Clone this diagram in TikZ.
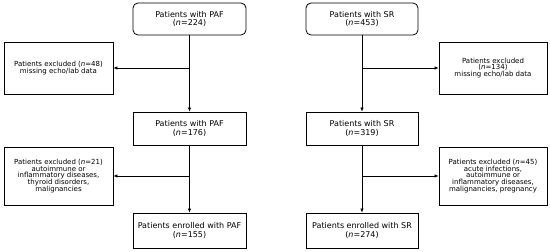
\documentclass[tikz,border=0pt]{standalone}
\usepackage{fontspec}
\setmainfont{DejaVu Sans}
\usetikzlibrary{arrows.meta,positioning,calc}
\definecolor{fEdge}{HTML}{000000}

\begin{document}
\begin{tikzpicture}[
  x=1pt, y=1pt, font=\fontsize{8}{8.3}\selectfont,
  pbox/.style={draw=fEdge, line width=0.8pt, align=center, inner sep=2pt,
               minimum width=113pt, minimum height=33pt},
  pstart/.style={pbox, rounded corners=5pt, minimum height=32pt},
  xbox/.style={draw=fEdge, line width=0.8pt, align=center, inner sep=2pt,
               minimum width=109pt, font=\fontsize{7}{6.8}\selectfont},
  ar/.style={-{Latex[length=4pt,width=3.5pt]}, draw=fEdge, line width=0.7pt},
]
\useasboundingbox (0,0) rectangle (550,252);

% ============================================================ PAF column
\node[pstart] at (189.5,233) (paf1) {Patients with PAF\\(\textit{n}=224)};
\node[pbox] at (189.5,123.5) (paf2) {Patients with PAF\\(\textit{n}=176)};
\node[pbox, minimum height=35pt] at (189.5,21.5) (paf3) {Patients enrolled with PAF\\(\textit{n}=155)};
\node[xbox, minimum height=52pt] at (58.5,184) (exA1) {Patients excluded (\textit{n}=48)\\missing echo/lab data};
\node[xbox, minimum height=58pt] at (58.5,76) (exA2)
  {Patients excluded (\textit{n}=21)\\autoimmune or\\inflammatory diseases,\\thyroid disorders,\\malignancies};

% ============================================================ SR column
\node[pstart, minimum width=112pt] at (362,233) (sr1) {Patients with SR\\(\textit{n}=453)};
\node[pbox, minimum width=112pt] at (362,123.5) (sr2) {Patients with SR\\(\textit{n}=319)};
\node[pbox, minimum width=112pt, minimum height=35pt] at (362,21.5) (sr3) {Patients enrolled with SR\\(\textit{n}=274)};
\node[xbox, minimum width=108pt, minimum height=52pt] at (493,184) (exB1) {Patients excluded\\(\textit{n}=134)\\missing echo/lab data};
\node[xbox, minimum width=108pt, minimum height=58pt] at (493,76) (exB2)
  {Patients excluded (\textit{n}=45)\\acute infections,\\autoimmune or\\inflammatory diseases,\\malignancies, pregnancy};

% ============================================================ arrows
\coordinate (jA1) at (paf1.south |- exA1.east);
\coordinate (jA2) at (paf2.south |- exA2.east);
\coordinate (jB1) at (sr1.south |- exB1.west);
\coordinate (jB2) at (sr2.south |- exB2.west);
\draw[ar] (paf1) -- (paf2);
\draw[ar] (paf2) -- (paf3);
\draw[ar] (sr1) -- (sr2);
\draw[ar] (sr2) -- (sr3);
\draw[ar] (jA1) -- (exA1.east);
\draw[ar] (jA2) -- (exA2.east);
\draw[ar] (jB1) -- (exB1.west);
\draw[ar] (jB2) -- (exB2.west);

\end{tikzpicture}
\end{document}
